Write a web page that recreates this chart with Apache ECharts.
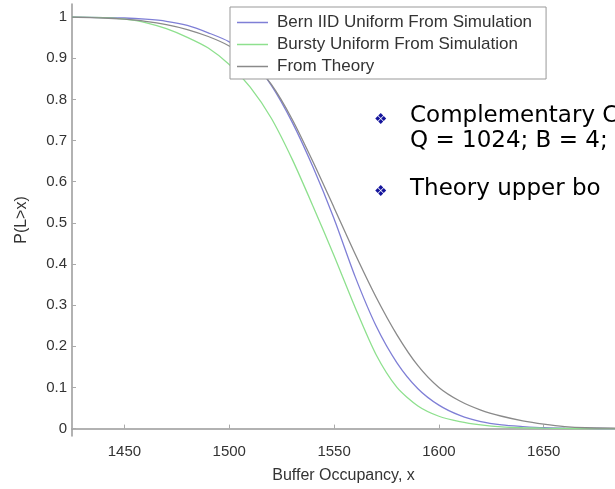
<!DOCTYPE html>
<html>
<head>
<meta charset="utf-8">
<script src="https://cdn.jsdelivr.net/npm/echarts@6/dist/echarts.min.js"></script>
<style>
  html, body { margin: 0; padding: 0; background: #fff; }
  #chart { width: 615px; height: 489px; }
</style>
</head>
<body>
<div id="chart"></div>
<script>
// buffer occupancy, x
const xValues = [1425, 1440, 1450, 1460, 1470, 1480, 1490, 1500, 1510, 1520, 1530, 1540,
  1550, 1560, 1570, 1580, 1590, 1600, 1610, 1620, 1630, 1640, 1650, 1660, 1670, 1684];

// P(L>x) for each curve
const bernIID = [1.0, 0.999, 0.998, 0.995, 0.99, 0.98, 0.962, 0.94, 0.9, 0.835, 0.745, 0.635,
  0.51, 0.37, 0.25, 0.16, 0.097, 0.057, 0.032, 0.017, 0.009, 0.005, 0.002, 0.001, 0.0005, 0];
const bursty = [1.0, 0.999, 0.995, 0.987, 0.972, 0.951, 0.925, 0.885, 0.83, 0.755, 0.655, 0.54,
  0.42, 0.295, 0.18, 0.1, 0.055, 0.03, 0.017, 0.009, 0.004, 0.002, 0.001, 0.0005, 0, 0];
const theory = [1.0, 0.998, 0.995, 0.99, 0.982, 0.97, 0.953, 0.93, 0.895, 0.837, 0.752, 0.648,
  0.537, 0.425, 0.32, 0.228, 0.153, 0.1, 0.067, 0.045, 0.03, 0.019, 0.011, 0.005, 0.002, 0.001];

const xTicks = [1450, 1500, 1550, 1600, 1650];
const yTicks = [0, 0.1, 0.2, 0.3, 0.4, 0.5, 0.6, 0.7, 0.8, 0.9, 1];

const seriesNames = ['Bern IID Uniform From Simulation', 'Bursty Uniform From Simulation', 'From Theory'];
const colors = ['#7f7fd6', '#8ee08e', '#8a8a8a'];

const toPairs = (ys) => xValues.map((x, i) => [x, ys[i]]);

const chart = echarts.init(document.getElementById('chart'));

const labelFont = 'Liberation Sans, Arial, sans-serif';
const slideFont = '23px "DejaVu Sans"';

const option = {
  animation: false,
  backgroundColor: '#fff',
  grid: { left: 72, right: 0, top: 4, bottom: 51 },
  legend: {
    data: seriesNames,
    orient: 'vertical',
    left: 230,
    top: 7,
    icon: 'rect',
    itemWidth: 31,
    itemHeight: 1.5,
    itemGap: 5,
    padding: [7, 14, 4, 7],
    borderColor: '#999',
    borderWidth: 1,
    backgroundColor: '#fff',
    textStyle: { fontFamily: labelFont, fontSize: 17, color: '#333', padding: [0, 0, 0, 4] }
  },
  xAxis: {
    type: 'value',
    min: 1425,
    max: 1684,
    name: 'Buffer Occupancy, x',
    nameLocation: 'middle',
    nameGap: 32,
    nameTextStyle: { fontFamily: labelFont, fontSize: 16, color: '#333' },
    axisLine: { lineStyle: { color: '#999', width: 1.5 } },
    axisTick: { inside: true, length: 4, customValues: xTicks, lineStyle: { color: '#aaa' } },
    axisLabel: {
      customValues: xTicks, margin: 8, fontFamily: labelFont, fontSize: 15, color: '#333',
      formatter: (v) => String(v)
    },
    splitLine: { show: false }
  },
  yAxis: {
    type: 'value',
    min: -0.018,
    max: 1.032,
    name: 'P(L>x)',
    nameLocation: 'middle',
    nameGap: 42,
    nameTextStyle: { fontFamily: labelFont, fontSize: 16, color: '#333' },
    axisLine: { show: true, lineStyle: { color: '#999', width: 1.5 } },
    axisTick: { show: true, inside: true, length: 4, customValues: yTicks, lineStyle: { color: '#aaa' } },
    axisLabel: {
      customValues: yTicks, margin: 5, fontFamily: labelFont, fontSize: 15, color: '#333',
      formatter: (v) => String(Math.round(v * 10) / 10)
    },
    splitLine: { show: false }
  },
  series: seriesNames.map((name, i) => ({
    name: name,
    type: 'line',
    data: toPairs([bernIID, bursty, theory][i]),
    smooth: 0.25,
    symbol: 'none',
    color: colors[i],
    lineStyle: { color: colors[i], width: 1.3 }
  })),
  graphic: [
    { type: 'text', left: 374, top: 113, style: { text: '\u2756', fill: '#14149c', font: '15px "DejaVu Sans"' } },
    { type: 'text', left: 410, top: 105, style: { text: 'Complementary C', fill: '#000', font: slideFont } },
    { type: 'text', left: 410, top: 130, style: { text: 'Q = 1024; B = 4;', fill: '#000', font: slideFont } },
    { type: 'text', left: 374, top: 185, style: { text: '\u2756', fill: '#14149c', font: '15px "DejaVu Sans"' } },
    { type: 'text', left: 410, top: 178, style: { text: 'Theory upper bo', fill: '#000', font: slideFont } }
  ]
};

chart.setOption(option);
</script>
</body>
</html>
